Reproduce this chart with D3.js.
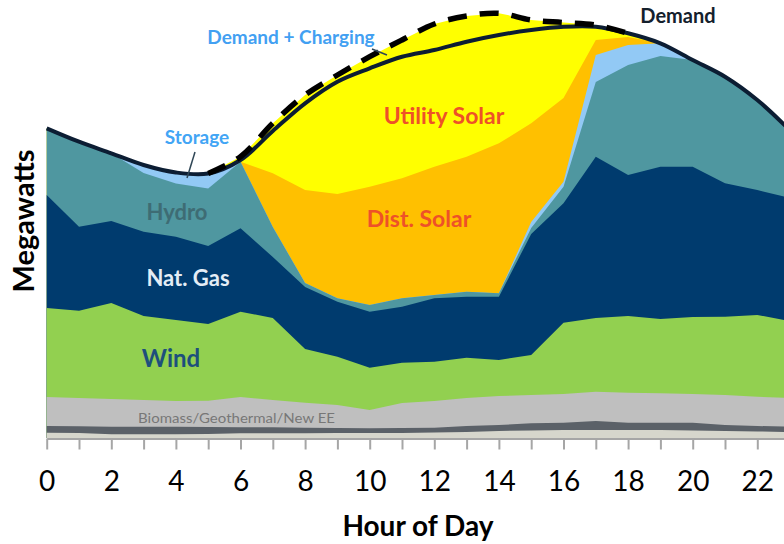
<!DOCTYPE html>
<html>
  <head>
    <meta charset="utf-8">
    <title>Hourly dispatch by source</title>
    <script src="https://cdn.jsdelivr.net/npm/d3@7"></script>
    <style>
      body { margin: 0; background: #fff; }
      svg { display: block; font-family: Lato, "Open Sans", sans-serif; }
      .lbl { font-weight: bold; text-anchor: middle; }
    </style>
  </head>
  <body>
    <svg id="chart" width="784" height="544"></svg>
    <script>
      // hours of the day
      var hours = [0, 1, 2, 3, 4, 5, 6, 7, 8, 9, 10, 11, 12, 13, 14, 15, 16, 17, 18, 19, 20, 21, 22, 23];
      // stacked generation by source (arbitrary GW units)
      var other     = [0.53, 0.5, 0.37, 0.37, 0.37, 0.4, 0.47, 0.47, 0.47, 0.5, 0.5, 0.5, 0.55, 0.6, 0.7, 0.75, 0.8, 0.8, 0.8, 0.8, 0.75, 0.7, 0.65, 0.6];
      var nuclear   = [0.67, 0.67, 0.76, 0.76, 0.76, 0.7, 0.6, 0.6, 0.56, 0.5, 0.47, 0.5, 0.48, 0.6, 0.6, 0.72, 0.73, 0.9, 0.73, 0.73, 0.78, 0.6, 0.55, 0.53];
      var biomass   = [2.9, 2.83, 2.77, 2.67, 2.57, 2.63, 3.03, 2.73, 2.5, 2.3, 1.83, 2.5, 2.67, 2.8, 2.9, 2.83, 2.87, 2.93, 3.0, 2.94, 2.87, 3.0, 2.93, 2.87];
      var wind      = [8.9, 8.73, 9.6, 8.4, 8.1, 7.67, 8.53, 8.2, 5.37, 4.83, 4.23, 4.03, 3.93, 4.03, 3.6, 4.0, 7.13, 7.37, 7.67, 7.43, 7.7, 7.83, 8.17, 7.7];
      var natGas    = [11.3, 8.4, 8.2, 8.43, 8.33, 7.8, 8.34, 6.1, 6.2, 5.5, 5.6, 5.6, 6.34, 6.1, 6.33, 12.1, 11.94, 16.13, 14.1, 15.23, 15.03, 13.34, 12.5, 12.3];
      var hydro     = [6.67, 8.5, 6.77, 5.87, 5.32, 5.75, 6.66, 3.0, 0.4, 0.34, 0.67, 0.84, 0.33, 0.5, 0.34, 0.6, 1.66, 7.47, 11.0, 11.07, 10.67, 10.66, 9.0, 6.8];
      var storage   = [0, 0, 0, 0.8, 1.1, 1.5, 0, 0, 0, 0, 0, 0, 0, 0, 0, 0.6, 0.5, 2.7, 2.0, 1.27, 0, 0, 0, 0];
      var distSolar = [0, 0, 0, 0, 0, 0, 0, 5.37, 9.3, 10.43, 11.83, 12.0, 12.83, 13.5, 15.0, 9.87, 8.37, 1.5, 0.8, 0, 0, 0, 0, 0];
      var utilSolar = [0, 0, 0, 0, 0, 0, 0.5, 5.0, 9.5, 11.9, 13.0, 13.83, 14.27, 14.07, 13.0, 10.33, 7.55, 1.5, 0.37, 0, 0, 0, 0, 0];
      // load lines
      var demand    = [30.97, 29.63, 28.47, 27.3, 26.55, 26.45, 27.8, 30.7, 33.47, 35.63, 36.97, 38.13, 38.8, 39.63, 40.3, 40.8, 41.13, 41.13, 40.47, 39.47, 37.8, 36.13, 33.8, 30.8];
      var demandCharging = [null, null, null, null, null, 26.45, 28.13, 31.47, 34.3, 36.3, 38.13, 39.8, 41.4, 42.2, 42.47, 41.8, 41.55, 41.3, 40.47, null, null, null, null, null];

      var keys = ["other", "nuclear", "biomass", "wind", "natGas", "hydro", "storage", "distSolar", "utilSolar"];
      var series = { other: other, nuclear: nuclear, biomass: biomass, wind: wind, natGas: natGas,
                     hydro: hydro, storage: storage, distSolar: distSolar, utilSolar: utilSolar };
      var colours = { other: "#d6d6cc", nuclear: "#5b6168", biomass: "#bfbfbf", wind: "#92d050", natGas: "#003b6e",
                      hydro: "#4f97a0", storage: "#92c9f5", distSolar: "#ffc000", utilSolar: "#ffff00" };

      var rows = hours.map(function(h, i) {
        var r = { hour: h };
        keys.forEach(function(k) { r[k] = series[k][i]; });
        return r;
      });

      var svg = d3.select("#chart");
      var x = d3.scaleLinear().domain([0, 23]).range([46.7, 789.6]);
      var y = d3.scaleLinear().domain([0, 43.8]).range([438, 0]);

      var stacked = d3.stack().keys(keys)(rows);

      // each layer drawn from the baseline to its top, top layer first, so no seams show
      var area = d3.area()
        .x(function(d) { return x(d.data.hour); })
        .y0(y(0))
        .y1(function(d) { return y(d[1]); });

      svg.append("g")
        .selectAll("path")
          .data(stacked.slice().reverse())
        .enter().append("path")
          .attr("d", area)
          .attr("fill", function(d) { return colours[d.key]; });

      // demand lines
      var line = d3.line()
        .defined(function(d) { return d[1] != null; })
        .x(function(d) { return x(d[0]); })
        .y(function(d) { return y(d[1]); })
        .curve(d3.curveCatmullRom.alpha(0.5));

      svg.append("path")
        .attr("d", line(hours.map(function(h, i) { return [h, demand[i]]; })))
        .attr("fill", "none")
        .attr("stroke", "#0c1d33")
        .attr("stroke-width", 4);

      svg.append("path")
        .attr("d", line(hours.map(function(h, i) { return [h, demandCharging[i]]; })))
        .attr("fill", "none")
        .attr("stroke", "#000")
        .attr("stroke-width", 5.5)
        .attr("stroke-dasharray", "19,13");

      // x axis
      var axis = d3.axisBottom(x)
        .tickValues(hours)
        .tickFormat(function(d) { return d % 2 === 0 ? d : ""; })
        .tickSize(11)
        .tickSizeOuter(0);

      var ax = svg.append("g")
        .attr("transform", "translate(0,438.5)")
        .call(axis);
      ax.select(".domain").attr("stroke", "#a6a6a6").attr("stroke-width", 2);
      ax.selectAll(".tick line").attr("stroke", "#a6a6a6").attr("stroke-width", 2);
      ax.selectAll(".tick text")
        .attr("y", 52.5)
        .attr("dy", 0)
        .attr("fill", "#000")
        .style("font-family", "Lato, sans-serif")
        .style("font-size", "28px");

      // axis titles
      svg.append("text")
        .attr("class", "lbl")
        .attr("x", 418)
        .attr("y", 536)
        .style("font-size", "28px")
        .text("Hour of Day");

      svg.append("text")
        .attr("class", "lbl")
        .attr("transform", "translate(33.5,221) rotate(-90)")
        .style("font-size", "29px")
        .text("Megawatts");

      // series labels
      var labels = [
        { text: "Hydro", x: 177, y: 220, size: 22, fill: "#3e6c74" },
        { text: "Nat. Gas", x: 188, y: 286, size: 22, fill: "#e4edf6" },
        { text: "Wind", x: 171, y: 366.5, size: 24, fill: "#1d4f7c" },
        { text: "Utility Solar", x: 444, y: 124, size: 23, fill: "#ee5128" },
        { text: "Dist. Solar", x: 419, y: 227, size: 23, fill: "#ee5128" },
        { text: "Storage", x: 197, y: 144, size: 19, fill: "#42a5f5" },
        { text: "Demand + Charging", x: 291, y: 44, size: 19, fill: "#42a0f2" },
        { text: "Demand", x: 678, y: 23, size: 20, fill: "#14202c" }
      ];
      svg.selectAll(".series-label")
          .data(labels)
        .enter().append("text")
          .attr("class", "lbl series-label")
          .attr("x", function(d) { return d.x; })
          .attr("y", function(d) { return d.y; })
          .attr("fill", function(d) { return d.fill; })
          .style("font-size", function(d) { return d.size + "px"; })
          .text(function(d) { return d.text; });

      svg.append("text")
        .attr("x", 138)
        .attr("y", 422.5)
        .attr("fill", "#777")
        .attr("textLength", 197)
        .attr("lengthAdjust", "spacingAndGlyphs")
        .style("font-size", "13px")
        .text("Biomass/Geothermal/New  EE");

      // leader lines
      svg.append("line")
        .attr("x1", 195).attr("y1", 152).attr("x2", 187).attr("y2", 178)
        .attr("stroke", "#2f4656").attr("stroke-width", 1.5);
      svg.append("line")
        .attr("x1", 372).attr("y1", 49).attr("x2", 387).attr("y2", 55)
        .attr("stroke", "#2f4656").attr("stroke-width", 1.5);
    </script>
  </body>
</html>
